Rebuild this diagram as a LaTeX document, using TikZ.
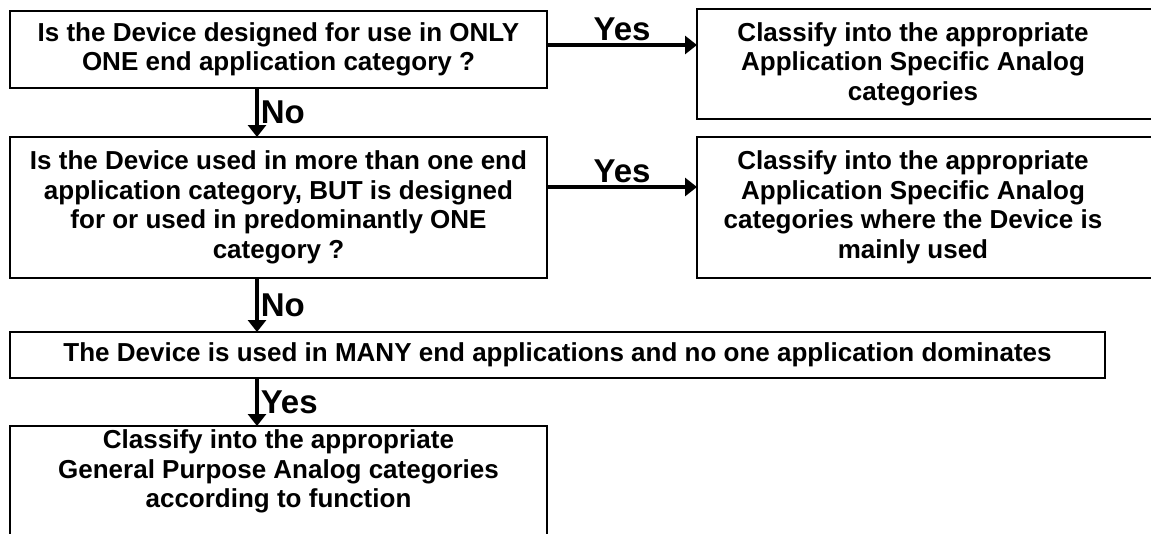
\documentclass[tikz,border=0pt]{standalone}
\usepackage{fontspec}
\setmainfont{Liberation Sans}
\usetikzlibrary{arrows.meta, positioning}

\tikzset{
  box/.style={draw, line width=1.5pt, minimum width=537pt, align=center, inner sep=4pt, outer sep=0pt, font=\fontsize{26}{29.5}\selectfont\bfseries},
  openbox/.style={box, draw=none},
  arr/.style={line width=3.5pt, -{Triangle[length=12pt, width=18pt]}},
  lbl/.style={font=\fontsize{33}{36}\selectfont\bfseries, inner sep=2pt},
}

\begin{document}
\begin{tikzpicture}[x=1pt, y=-1pt]
    \useasboundingbox (0,0) rectangle (1151,533);
    \clip (0,0) rectangle (1151,533);

    % questions on the left
    \node[box, minimum height=77pt, anchor=north west] (q1) at (10,11) {Is the Device designed for use in ONLY\\ONE end application category ?};
    \node[box, minimum height=141pt, below=49pt of q1] (q2) {Is the Device used in more than one end\\application category, BUT is designed\\for or used in predominantly ONE\\category ?};
    \node[box, minimum width=1095pt, minimum height=46pt, below=54pt of q2.south west, anchor=north west] (q3) {The Device is used in MANY end applications and no one application dominates};
    \node[openbox, minimum height=86pt, below=48pt of q3.south west, anchor=north west] (gen) {Classify into the appropriate\\General Purpose Analog categories\\according to function};

    % answers on the right
    \node[openbox, minimum width=432pt, minimum height=110pt, anchor=north west] (app1) at (697,9) {Classify into the appropriate\\Application Specific Analog\\categories};
    \node[openbox, minimum width=432pt, minimum height=141pt, anchor=north west] (app2) at (697,137) {Classify into the appropriate\\Application Specific Analog\\categories where the Device is\\mainly used};

    % frames that run off the page
    \draw[line width=1.5pt] (app1.north west) rectangle ([xshift=40pt]app1.south east);
    \draw[line width=1.5pt] (app2.north west) rectangle ([xshift=40pt]app2.south east);
    \draw[line width=1.5pt] (gen.north west) rectangle ([yshift=-40pt]gen.south east);

    % arrows
    \coordinate (spine) at (257,0);
    \coordinate (yes1) at (0,45);
    \coordinate (yes2) at (0,187);
    \draw[arr] (spine |- q1.south) -- (spine |- q2.north) node[lbl, midway, right] {No};
    \draw[arr] (spine |- q2.south) -- (spine |- q3.north) node[lbl, midway, right] {No};
    \draw[arr] (spine |- q3.south) -- (spine |- gen.north) node[lbl, midway, right] {Yes};
    \draw[arr] (q1.east |- yes1) -- (app1.west |- yes1) node[lbl, midway, above] {Yes};
    \draw[arr] (q2.east |- yes2) -- (app2.west |- yes2) node[lbl, midway, above] {Yes};
\end{tikzpicture}
\end{document}
